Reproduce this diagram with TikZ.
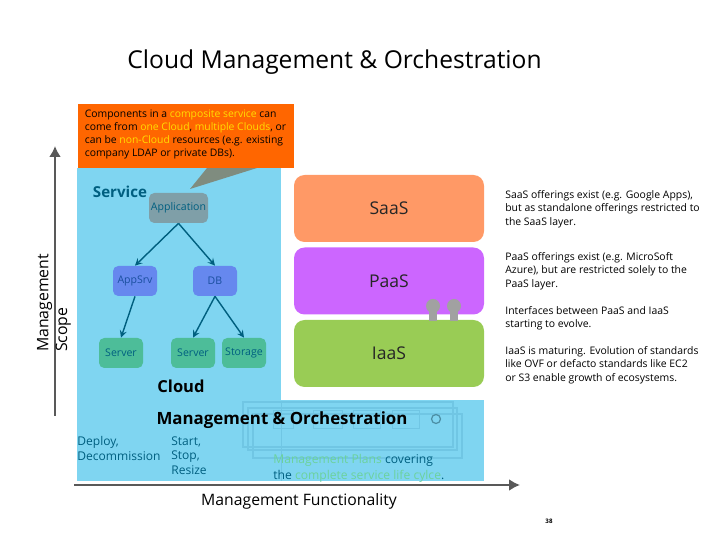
\documentclass[tikz,border=0pt]{standalone}
\usepackage{fontspec}
\setmainfont{Open Sans}
\usepackage{tikz}
\usetikzlibrary{arrows.meta}
\definecolor{panelblue}{HTML}{7FD5F1}
\definecolor{calloutorange}{HTML}{FF6600}
\definecolor{calloutgray}{HTML}{7F8C7F}
\definecolor{hilite}{HTML}{FFDD00}
\definecolor{tealtext}{HTML}{005F80}
\definecolor{tealbar}{HTML}{005F7F}
\definecolor{axisgray}{HTML}{595959}
\definecolor{greentext}{HTML}{6CD29C}
\definecolor{appgray}{HTML}{7F9FA8}
\definecolor{srvblue}{HTML}{6688EE}
\definecolor{srvtext}{HTML}{1A4F9F}
\definecolor{resgreen}{HTML}{4DBD99}
\definecolor{planline}{HTML}{70C6E4}
\definecolor{saasfill}{HTML}{FF9966}
\definecolor{paasfill}{HTML}{CC66FF}
\definecolor{iaasfill}{HTML}{99CC55}
\begin{document}
\begin{tikzpicture}[
  font=\fontsize{6}{7.4}\selectfont,
  box/.style={rounded corners=3pt, minimum width=0.88cm, minimum height=0.6cm, inner sep=0pt, text=tealtext},
  appbox/.style={box, fill=appgray, minimum width=1.18cm},
  tierbox/.style={box, fill=srvblue, text=srvtext},
  resbox/.style={box, fill=resgreen},
  layerbox/.style={rounded corners=6pt, minimum width=3.8cm, minimum height=1.34cm, inner sep=0pt, text=black!85, font=\fontsize{10}{12}\selectfont},
  note/.style={anchor=west, align=left, inner sep=0pt, font=\fontsize{5.93}{7.6}\selectfont},
  tealnote/.style={anchor=north west, align=left, inner sep=0pt, text=tealtext, font=\fontsize{6.85}{8.5}\selectfont},
  arrow/.style={->, >=stealth, line width=0.8pt, tealbar},
  axis/.style={-{Latex[length=2.2mm,width=2.4mm]}, line width=1.7pt, axisgray},
  planframe/.style={draw=planline, line width=0.6pt, inner sep=0pt},
  plantab/.style={draw=planline, line width=0.4pt, inner sep=0pt, minimum height=0.36cm},
  stem/.style={fill=black!37, minimum width=0.16cm, minimum height=0.2cm, inner sep=0pt},
  knob/.style={circle, fill=black!37, minimum size=0.28cm, inner sep=0pt}
]
\useasboundingbox (0,0) rectangle (14.4,10.8);
% background panels
\fill[panelblue] (1.54,7.44) rectangle (5.62,1.18);
\fill[panelblue] (5.62,2.8) rectangle (9.68,1.18);
% stacked plan frames
\node[planframe, minimum width=4.18cm, minimum height=0.88cm] (planc) at (7.15,2.08) {};
\node[planframe, minimum width=4.18cm, minimum height=0.84cm] (planb) at (7.05,2.22) {};
\node[planframe, minimum width=4.2cm, minimum height=0.9cm] (plana) at (6.96,2.31) {};
\node[plantab, minimum width=0.4cm] (taba) at (5.66,2.42) {};
\node[plantab, minimum width=0.58cm] (tabb) at (6.55,2.42) {};
\node[plantab, minimum width=0.54cm] (tabc) at (7.33,2.42) {};
\node[plantab, minimum width=0.54cm] (tabd) at (8.11,2.42) {};
\node[draw=tealbar!70, circle, line width=0.7pt, minimum size=0.18cm, inner sep=0pt] (planknob) at (8.72,2.42) {};
\coordinate (seamtop) at (5.62,2.76);
\coordinate (seambot) at (5.62,1.18);
\draw[planline, line width=0.5pt] (seamtop) -- (seambot);
% title
\node[inner sep=0pt, font=\fontsize{14}{16}\selectfont] (title) at (6.69,9.56) {Cloud Management \& Orchestration};
% callout
\coordinate (tipa) at (4.14,7.44);
\coordinate (tipb) at (5.14,7.44);
\coordinate (tipc) at (3.8,7.02);
\fill[calloutgray] (tipa) -- (tipb) -- (tipc) -- cycle;
\node[fill=calloutorange, minimum width=4.32cm, minimum height=1.28cm, inner sep=0pt] (callout) at (3.72,8.08) {};
\node[anchor=north west, align=left, inner sep=0pt, font=\fontsize{5.9}{7.4}\selectfont] (callouttext) at (1.69,8.6)
  {Components in a \textcolor{hilite}{composite service} can\\
   come from \textcolor{hilite}{one Cloud}, \textcolor{hilite}{multiple Clouds}, or\\
   can be \textcolor{hilite}{non-Cloud} resources (e.g. existing\\
   company LDAP or private DBs).};
% service tree
\node[inner sep=0pt, text=tealtext, font=\fontsize{8.6}{10}\selectfont\bfseries] (service) at (2.4,6.96) {Service};
\node[appbox] (app) at (3.57,6.64) {Application};
\node[tierbox] (appsrv) at (2.7,5.18) {AppSrv};
\node[tierbox] (db) at (4.3,5.18) {DB};
\node[resbox] (srva) at (2.42,3.74) {Server};
\node[resbox] (srvb) at (3.86,3.74) {Server};
\node[resbox] (store) at (4.88,3.74) {Storage};
\draw[arrow] (app.south) -- (appsrv.north);
\draw[arrow] (app.south) -- (db.north);
\draw[arrow] (appsrv.south) -- (srva.north);
\draw[arrow] (db.south) -- (srvb.north);
\draw[arrow] (db.south) -- (store.north);
\node[inner sep=0pt, font=\fontsize{9.4}{11}\selectfont\bfseries] (cloud) at (3.62,3.08) {Cloud};
% layers
\node[layerbox, fill=saasfill] (saas) at (7.78,6.63) {SaaS};
\node[layerbox, fill=paasfill] (paas) at (7.78,5.18) {PaaS};
\node[layerbox, fill=iaasfill] (iaas) at (7.78,3.73) {IaaS};
\node[stem] (stema) at (8.66,4.47) {};
\node[stem] (stemb) at (9.08,4.47) {};
\node[knob] (knoba) at (8.66,4.68) {};
\node[knob] (knobb) at (9.08,4.68) {};
% notes
\node[note] (saasnote) at (10.1,6.62) {SaaS offerings exist (e.g. Google Apps),\\but as standalone offerings restricted to\\the SaaS layer.};
\node[note] (paasnote) at (10.1,5.38) {PaaS offerings exist (e.g. MicroSoft\\Azure), but are restricted solely to the\\PaaS layer.};
\node[note] (ifnote) at (10.1,4.44) {Interfaces between PaaS and IaaS\\starting to evolve.};
\node[note] (iaasnote) at (10.1,3.5) {IaaS is maturing. Evolution of standards\\like OVF or defacto standards like EC2\\or S3 enable growth of ecosystems.};
% management band
\node[inner sep=0pt, font=\fontsize{9.6}{12}\selectfont\bfseries] (mgmt) at (5.64,2.4) {Management \& Orchestration};
\node[tealnote] (deploy) at (1.54,2.08) {Deploy,\\Decommission};
\node[tealnote] (start) at (3.42,2.08) {Start,\\Stop,\\Resize};
\node[anchor=north west, align=left, inner sep=0pt, text=tealtext, font=\fontsize{6.9}{8.8}\selectfont] (plans) at (5.46,1.72)
  {\textcolor{greentext}{Management Plans} covering\\the \textcolor{greentext}{complete service life cylce}.};
% axes
\coordinate (xstart) at (1.48,1.1);
\coordinate (ystart) at (1.1,2.48);
\coordinate (ytip) at (1.1,7.88);
\coordinate (xtip) at (10.4,1.1);
\draw[axis] (ystart) -- (ytip);
\draw[axis] (xstart) -- (xtip);
\node[inner sep=0pt, rotate=90, align=left, font=\fontsize{9}{10.8}\selectfont] (scope) at (1.08,4.74) {Management\\Scope};
\node[inner sep=0pt, font=\fontsize{8.96}{10}\selectfont] (func) at (5.98,0.78) {Management Functionality};
\node[inner sep=0pt, font=\fontsize{3.5}{4}\selectfont\bfseries] (pagenum) at (10.98,0.38) {38};
\end{tikzpicture}
\end{document}
